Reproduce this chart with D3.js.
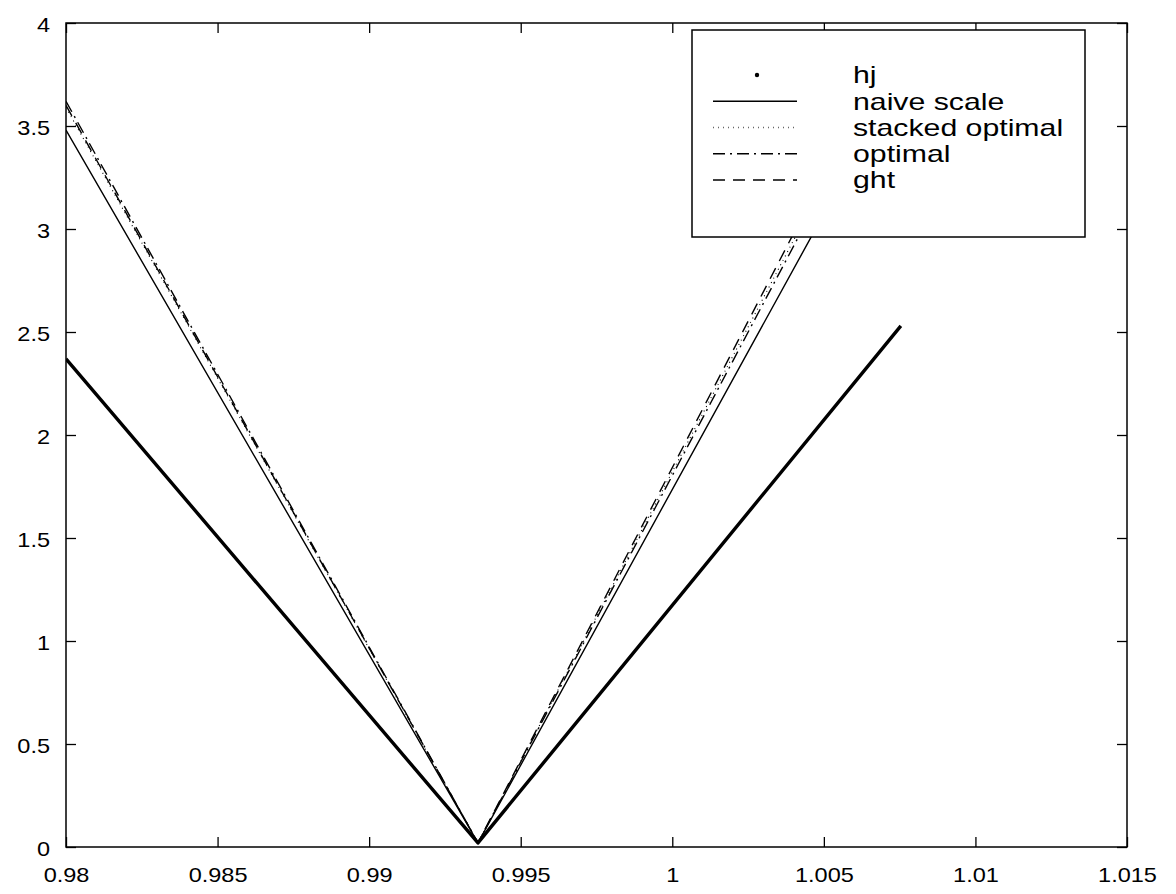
<!DOCTYPE html>
<html>
<head>
<meta charset="utf-8">
<script src="https://cdn.jsdelivr.net/npm/d3@7"></script>
<style>
  body { margin: 0; background: #fff; }
  text { font-family: "Liberation Sans", Arial, sans-serif; fill: #000; }
</style>
</head>
<body>
<div id="chart"></div>
<script>
// tick values
var xTicks = [0.98, 0.985, 0.99, 0.995, 1, 1.005, 1.01, 1.015];
var yTicks = [0, 0.5, 1, 1.5, 2, 2.5, 3, 3.5, 4];

// series (right ends hidden behind the legend)
var hjX = [0.98, 0.99359, 1.00754];
var hjY = [2.37, 0.02, 2.53];
var naiveX = [0.98, 0.99359, 1.0051];
var naiveY = [3.48, 0.02, 3.1];
var stackedX = [0.98, 0.99359, 1.00455];
var stackedY = [3.59, 0.02, 3.1];
var optimalX = [0.98, 0.99359, 1.00466];
var optimalY = [3.62, 0.02, 3.1];
var ghtX = [0.98, 0.99359, 1.00443];
var ghtY = [3.6, 0.02, 3.1];

var legendNames = ["hj", "naive scale", "stacked optimal", "optimal", "ght"];

var width = 1176, height = 894;
var margin = {top: 23, right: 49, bottom: 47, left: 66};

var svg = d3.select("#chart").append("svg")
    .attr("width", width)
    .attr("height", height);

var x = d3.scaleLinear().domain([0.98, 1.015]).range([margin.left, width - margin.right]);
var y = d3.scaleLinear().domain([0, 4]).range([height - margin.bottom, margin.top]);

svg.append("defs").append("clipPath").attr("id", "plotclip")
  .append("rect")
    .attr("x", x(0.98)).attr("y", y(4))
    .attr("width", x(1.015) - x(0.98)).attr("height", y(0) - y(4));

var styles = [
  {xs: hjX, ys: hjY, w: 3.4, dash: null},
  {xs: naiveX, ys: naiveY, w: 1.4, dash: null},
  {xs: stackedX, ys: stackedY, w: 1.1, dash: "1,4"},
  {xs: optimalX, ys: optimalY, w: 1.4, dash: "12,5,2,5"},
  {xs: ghtX, ys: ghtY, w: 1.4, dash: "12,8"}
];

var line = d3.line()
    .x(function(d) { return x(d[0]); })
    .y(function(d) { return y(d[1]); });

var plot = svg.append("g").attr("clip-path", "url(#plotclip)");
styles.forEach(function(s) {
  var pts = s.xs.map(function(v, i) { return [v, s.ys[i]]; });
  plot.append("path")
      .datum(pts)
      .attr("d", line)
      .attr("fill", "none")
      .attr("stroke", "#000")
      .attr("stroke-width", s.w)
      .attr("stroke-dasharray", s.dash)
      .attr("stroke-linejoin", "round");
});

// axes, ticks pointing inward
var tickLen = 10;
var fmt = function(d) { return d3.format("")(+d.toFixed(3)); };

var gx = svg.append("g")
    .attr("transform", "translate(0," + y(0) + ")")
    .call(d3.axisBottom(x).tickValues(xTicks).tickSize(-tickLen).tickFormat(fmt));
var gxTop = svg.append("g")
    .attr("transform", "translate(0," + y(4) + ")")
    .call(d3.axisTop(x).tickValues(xTicks).tickSize(-tickLen).tickFormat(""));
var gy = svg.append("g")
    .attr("transform", "translate(" + x(0.98) + ",0)")
    .call(d3.axisLeft(y).tickValues(yTicks).tickSize(-tickLen).tickPadding(16).tickFormat(fmt));
var gyRight = svg.append("g")
    .attr("transform", "translate(" + x(1.015) + ",0)")
    .call(d3.axisRight(y).tickValues(yTicks).tickSize(-tickLen).tickFormat(""));

[gx, gxTop, gy, gyRight].forEach(function(g) {
  g.select(".domain").remove();
  g.selectAll(".tick line").attr("stroke", "#000").attr("stroke-width", 1.3);
  g.selectAll("text").attr("font-size", 21).style("font-family", "'Liberation Sans', Arial, sans-serif");
});
gx.selectAll(".tick text").attr("dy", "0.71em").attr("y", 20);
gy.selectAll(".tick text").attr("dy", "0.4em");

svg.append("rect")
    .attr("x", x(0.98)).attr("y", y(4))
    .attr("width", x(1.015) - x(0.98)).attr("height", y(0) - y(4))
    .attr("fill", "none")
    .attr("stroke", "#000")
    .attr("stroke-width", 1.5);

// legend
var lg = svg.append("g").attr("transform", "translate(692,30)");
lg.append("rect")
    .attr("width", 393).attr("height", 207)
    .attr("fill", "#fff")
    .attr("stroke", "#000")
    .attr("stroke-width", 1.5);

var rowY = d3.scalePoint().domain(legendNames).range([45, 150]);
legendNames.forEach(function(name, i) {
  var ry = rowY(name);
  var s = styles[i];
  if (i === 0) {
    lg.append("circle").attr("cx", 65).attr("cy", ry).attr("r", 2.2).attr("fill", "#000");
  } else {
    lg.append("line")
        .attr("x1", 21).attr("x2", 105)
        .attr("y1", ry).attr("y2", ry)
        .attr("stroke", i === 2 ? "#666" : "#000")
        .attr("stroke-width", 1.3)
        .attr("stroke-dasharray", s.dash);
  }
  lg.append("text")
      .attr("x", 161).attr("y", ry)
      .attr("dy", "0.35em")
      .attr("font-size", 24)
      .text(name);
});

// scanned text looks wider than normal, stretch it a bit
svg.selectAll("text").each(function() {
  var t = d3.select(this);
  var k = +t.attr("font-size") > 22 ? 1.26 : 1.12;
  var len = this.getComputedTextLength();
  if (len > 0) t.attr("textLength", len * k).attr("lengthAdjust", "spacingAndGlyphs");
});
</script>
</body>
</html>
